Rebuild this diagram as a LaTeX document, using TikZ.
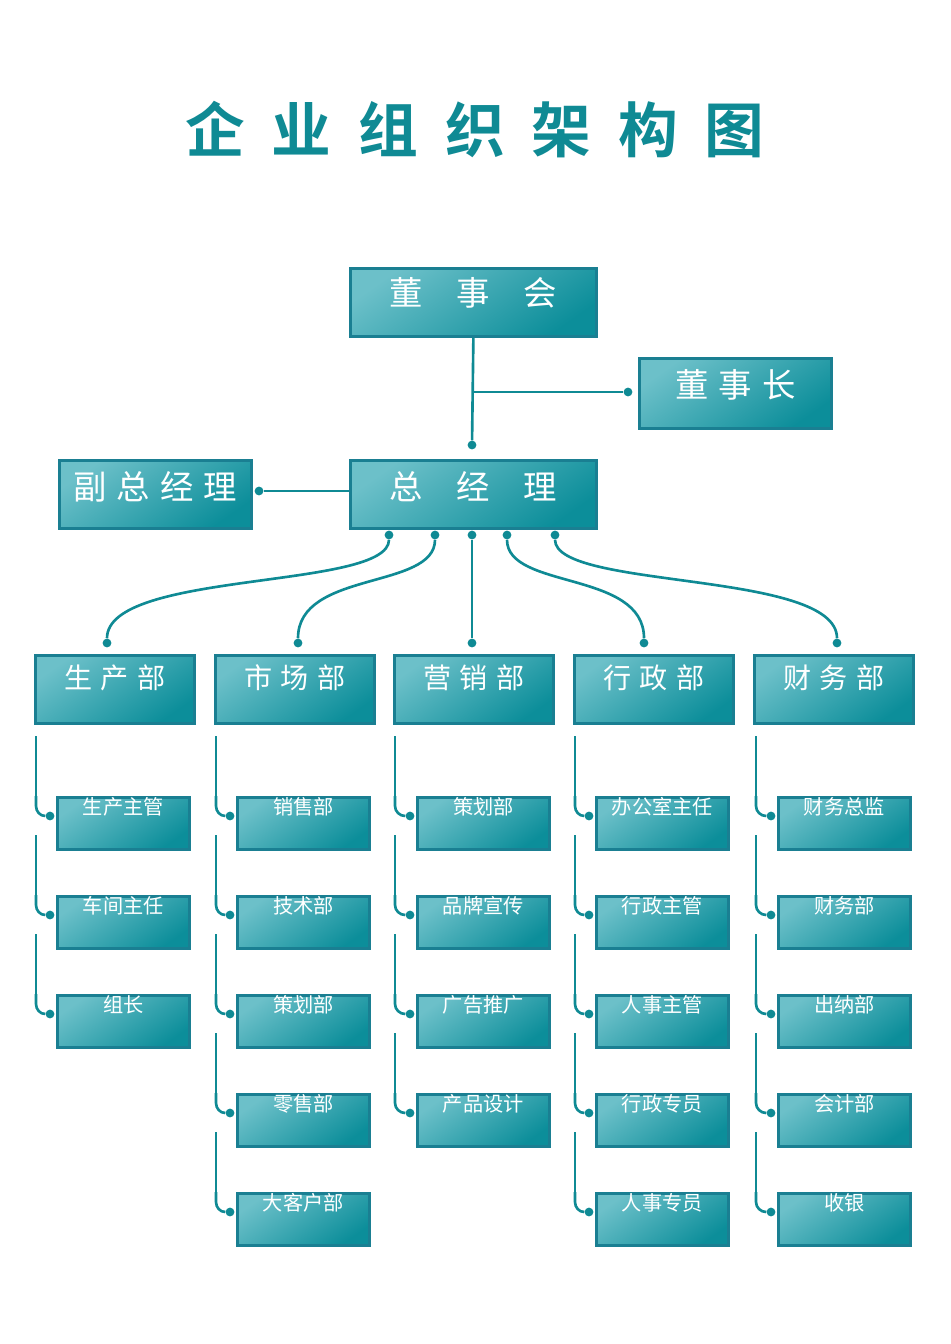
\documentclass[tikz,border=0pt]{standalone}
\usepackage{fontspec}
\newfontfamily\cjk{Noto Sans CJK SC}
\newfontfamily\cjkb{Noto Sans CJK SC Bold}
\definecolor{teal}{HTML}{0F8A94}
\definecolor{tealedge}{HTML}{1A7F92}
\definecolor{teallight}{HTML}{6CC0C9}
\definecolor{tealdark}{HTML}{0C8E9A}
\tikzset{
  box/.style={rectangle, draw=tealedge, line width=1.6pt, anchor=north west,
    top color=teallight, bottom color=tealdark, shading angle=35, inner sep=0pt},
  link/.style={draw=teal, line width=1.5pt},
  dot/.style={circle, fill=teal, inner sep=0pt, minimum size=5pt},
}
\newcommand{\boxtext}[3]{node[text=white, anchor=north, font=#1] at ($(#2.north)+(0,-#3)$) {}}
\usetikzlibrary{calc}
\begin{document}
\begin{tikzpicture}[x=0.02cm, y=-0.02cm]
\useasboundingbox (0,0) rectangle (950,1344);

% title
\node[text=teal, font=\cjkb\fontsize{34}{40}\selectfont] (title) at (475,130) {企\hspace{0.45em}业\hspace{0.45em}组\hspace{0.45em}织\hspace{0.45em}架\hspace{0.45em}构\hspace{0.45em}图};

% top level
\node[box, minimum width=4.92cm, minimum height=1.36cm] (board) at (349,267) {};
\node[text=white, font=\cjk\fontsize{19}{22}\selectfont] at ($(board.north)+(0,26)$) {董\hspace{1em}事\hspace{1em}会};
\node[box, minimum width=3.84cm, minimum height=1.40cm] (chair) at (638,357) {};
\node[text=white, font=\cjk\fontsize{19}{22}\selectfont] at ($(chair.north)+(0,28)$) {董\hspace{0.3em}事\hspace{0.3em}长};
\node[box, minimum width=4.92cm, minimum height=1.36cm] (gm) at (349,459) {};
\node[text=white, font=\cjk\fontsize{19}{22}\selectfont] at ($(gm.north)+(0,28)$) {总\hspace{1em}经\hspace{1em}理};
\node[box, minimum width=3.84cm, minimum height=1.36cm] (vgm) at (58,459) {};
\node[text=white, font=\cjk\fontsize{19}{22}\selectfont] at ($(vgm.north)+(0,28)$) {副\hspace{0.3em}总\hspace{0.3em}经\hspace{0.3em}理};

% top connectors
\node[dot] (gmin) at (472,445) {};
\node[dot] (chin) at (628,392) {};
\node[dot] (vgin) at (259,491) {};
\draw[link] (board.south) -- (gmin);
\draw[link] (472,392) -- (chin);
\draw[link] (vgin) -- (gm.west |- vgin);

% departments
\foreach \name/\x/\txt in {d1/34/生\hspace{0.3em}产\hspace{0.3em}部, d2/214/市\hspace{0.3em}场\hspace{0.3em}部,
    d3/393/营\hspace{0.3em}销\hspace{0.3em}部, d4/573/行\hspace{0.3em}政\hspace{0.3em}部, d5/753/财\hspace{0.3em}务\hspace{0.3em}部} {
  \node[box, minimum width=3.18cm, minimum height=1.36cm] (\name) at (\x,654) {};
  \node[text=white, font=\cjk\fontsize{16}{20}\selectfont] at ($(\name.north)+(0,24)$) {\txt};
}

% general manager to departments
\foreach \i/\sx/\ex in {1/389/107, 2/435/298, 3/472/472, 4/507/644, 5/555/837} {
  \node[dot] (s\i) at (\sx,535) {};
  \node[dot] (e\i) at (\ex,643) {};
  \draw[link] (s\i) .. controls (\sx,590) and (\ex,570) .. (e\i);
}

% sub units
\foreach \col/\x/\bx/\items in {
    1/36/56/{生产主管,车间主任,组长},
    2/216/236/{销售部,技术部,策划部,零售部,大客户部},
    3/395/416/{策划部,品牌宣传,广告推广,产品设计},
    4/575/595/{办公室主任,行政主管,人事主管,行政专员,人事专员},
    5/756/777/{财务总监,财务部,出纳部,会计部,收银}} {
  \foreach \txt [count=\r] in \items {
    \pgfmathsetmacro{\y}{796+99*(\r-1)}
    \node[box, minimum width=2.64cm, minimum height=1.04cm] (c\col r\r) at (\bx,\y) {};
    \node[text=white, font=\cjk\fontsize{11.5}{14}\selectfont] at ($(c\col r\r.north)+(0,11)$) {\txt};
    \node[dot] (p\col r\r) at ($(c\col r\r.north west)+(-6,20)$) {};
    \draw[link] (\x,\y) -- (\x,\y+10) to[out=-90, in=180] (p\col r\r);
    \draw[link] (\x,\y) -- (\x,\y-60);
  }
}
\end{tikzpicture}
\end{document}
